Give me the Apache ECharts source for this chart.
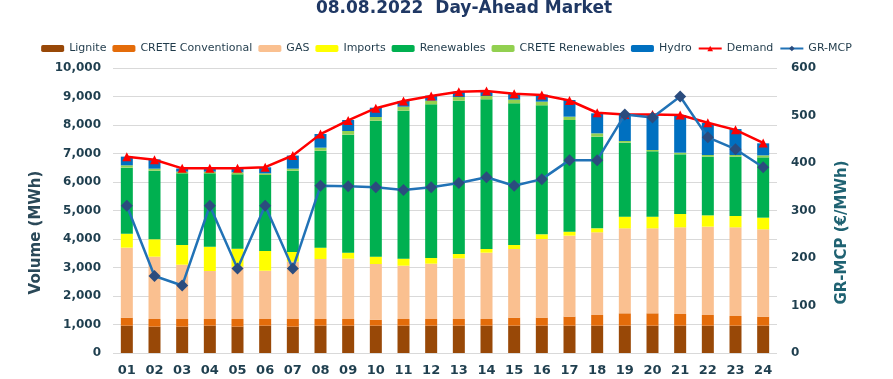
<!DOCTYPE html>
<html>
<head>
<meta charset="utf-8">
<script src="https://cdn.jsdelivr.net/npm/echarts@6/dist/echarts.min.js"></script>
<style>
html,body{margin:0;padding:0;background:#fff;}
#chart{width:893px;height:379px;}
</style>
</head>
<body>
<div id="chart"></div>
<script>
const hours = ['01','02','03','04','05','06','07','08','09','10','11','12','13','14','15','16','17','18','19','20','21','22','23','24'];
const lignite = [960,925,925,960,925,960,925,960,960,960,960,960,960,960,960,960,960,960,960,960,960,960,960,960];
const creteConventional = [280,268,268,233,268,233,268,233,233,210,233,233,233,233,280,280,315,373,432,432,408,373,338,315];
const gas = [2456,2187,1906,1684,1836,1695,2012,2105,2117,1953,1871,1942,2129,2327,2409,2760,2842,2901,2982,2982,3041,3100,3111,3064];
const imports = [491,608,690,854,632,691,339,398,210,257,246,198,152,129,140,164,140,140,410,410,468,397,398,410];
const renewables = [2317,2409,2515,2573,2608,2666,2853,3403,4141,4772,5193,5392,5380,5251,4971,4526,3918,3217,2596,2292,2094,2059,2082,2116];
const creteRenewables = [82,71,59,59,71,59,71,106,128,129,140,129,128,118,129,129,117,117,59,47,58,58,58,70];
const hydro = [304,327,110,117,140,211,460,479,386,327,199,175,187,175,222,245,585,701,940,1240,1321,1123,911,422];
const demand = [6890,6780,6480,6480,6480,6520,6930,7680,8160,8590,8840,9020,9170,9190,9100,9050,8860,8430,8370,8370,8350,8080,7830,7370];
const grMcp = [310,162,142,310,178,310,178,352,351,349,343,349,358,370,352,366,406,406,502,496,540,454,429,391];
const volumeTicks = [0,1000,2000,3000,4000,5000,6000,7000,8000,9000,10000];

const FONT = 'DejaVu Sans';
const chart = echarts.init(document.getElementById('chart'), null, {renderer:'canvas'});

function barSeries(name, data, color){
  return {name, type:'bar', stack:'total', data, barWidth:12,
    itemStyle:{color}, emphasis:{disabled:true}};
}

chart.setOption({
  animation:false,
  backgroundColor:'#ffffff',
  textStyle:{fontFamily:FONT},
  title:{
    text:'08.08.2022  Day-Ahead Market',
    left:459, textAlign:'center', top:-5,
    textStyle:{fontFamily:FONT, fontSize:17, fontWeight:'bold', color:'#1F3864'}
  },
  legend:{
    top:38, left:'center', itemWidth:23, itemHeight:7, itemGap:6,
    textStyle:{fontFamily:FONT, fontSize:11, color:'#1F3A4A'},
    data:['Lignite','CRETE Conventional','GAS','Imports','Renewables','CRETE Renewables','Hydro','Demand','GR-MCP']
  },
  grid:{left:113, right:116, top:68, bottom:26, containLabel:false},
  xAxis:{
    type:'category', data:hours,
    axisLine:{show:false}, axisTick:{show:false},
    axisLabel:{margin:11, fontFamily:FONT, fontSize:13, fontWeight:'bold', color:'#1F3F4F'}
  },
  yAxis:[
    {type:'value', min:volumeTicks[0], max:volumeTicks[volumeTicks.length-1], interval:1000,
     name:'Volume (MWh)', nameLocation:'middle', nameGap:62,
     nameTextStyle:{fontFamily:FONT, fontSize:15, fontWeight:'bold', color:'#2A4858', padding:[0,44,0,0]},
     axisLine:{show:false}, axisTick:{show:false},
     axisLabel:{margin:12, fontFamily:FONT, fontSize:12, fontWeight:'bold', color:'#1F3F4F',
       formatter:v=>v.toLocaleString('en-US')},
     splitLine:{lineStyle:{color:'#D9D9D9', width:1}}},
    {type:'value', min:0, max:600, interval:100,
     name:'GR-MCP (€/MWh)', nameLocation:'middle', nameGap:58,
     nameTextStyle:{fontFamily:FONT, fontSize:15, fontWeight:'bold', color:'#1F6272', padding:[0,44,0,0]},
     axisLine:{show:false}, axisTick:{show:false}, splitLine:{show:false},
     axisLabel:{margin:14, fontFamily:FONT, fontSize:12, fontWeight:'bold', color:'#1F3F4F'}}
  ],
  series:[
    barSeries('Lignite', lignite, '#984807'),
    barSeries('CRETE Conventional', creteConventional, '#E46C0A'),
    barSeries('GAS', gas, '#FAC090'),
    barSeries('Imports', imports, '#FFFF00'),
    barSeries('Renewables', renewables, '#00B050'),
    barSeries('CRETE Renewables', creteRenewables, '#92D050'),
    barSeries('Hydro', hydro, '#0070C0'),
    {name:'Demand', type:'line', data:demand, yAxisIndex:0, z:5,
     symbol:'triangle', symbolSize:9, itemStyle:{color:'#FF0000'},
     lineStyle:{color:'#FF0000', width:2.5}, emphasis:{disabled:true}},
    {name:'GR-MCP', type:'line', data:grMcp, yAxisIndex:1, z:6,
     symbol:'diamond', symbolSize:12, itemStyle:{color:'#2B4C7E'},
     lineStyle:{color:'#2172B6', width:2.5}, emphasis:{disabled:true}}
  ]
});
</script>
</body>
</html>
